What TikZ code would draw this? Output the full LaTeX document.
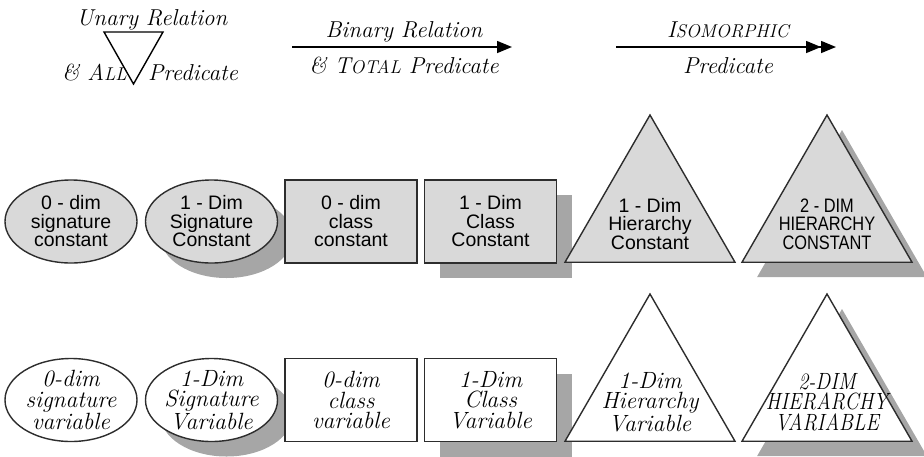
\documentclass[tikz,border=0pt]{standalone}
\usepackage{fontspec}
\usepackage{graphicx}
\newfontfamily\sansf{Liberation Sans}
\usetikzlibrary{shapes.geometric,shadows,arrows.meta}

\definecolor{boxfill}{RGB}{217,217,217}
\definecolor{shadowgray}{RGB}{166,166,166}
\definecolor{edgegray}{RGB}{45,45,45}

% small capitals set by hand (italic small caps)
\newcommand\smc[1]{{\fontsize{18.5}{18.5}\selectfont #1}}
% condensed capitals
\newcommand\narrowcaps[1]{\scalebox{0.84}[1]{#1}}
\newcommand\narrowital[1]{\scalebox{0.86}[1]{#1}}

\tikzset{
  shapebase/.style={draw=edgegray, line width=1.4pt, inner sep=0pt},
  ell/.style={shapebase, ellipse, minimum width=132pt, minimum height=83pt},
  box/.style={shapebase, rectangle, minimum width=132pt, minimum height=83pt},
  tri/.style={shapebase, regular polygon, regular polygon sides=3, minimum size=196.3pt},
  const/.style={fill=boxfill},
  var/.style={fill=white},
  shade/.style={drop shadow={shadow xshift=15pt, shadow yshift=-15pt,
                             fill=shadowgray, opacity=1}},
  sanslabel/.style={align=center, inner sep=0pt,
                    font=\sansf\fontsize{19.5}{18.5}\selectfont},
  seriflabel/.style={align=center, inner sep=0pt,
                     font=\itshape\fontsize{23.5}{20.5}\selectfont},
  headtext/.style={inner sep=0pt, font=\itshape\fontsize{23}{23}\selectfont},
  relarrow/.style={line width=1.5pt, -{Triangle[length=15pt,width=12pt]}},
  isoarrow/.style={line width=1.5pt,
                   -{Triangle[length=15pt,width=12pt]Triangle[length=15pt,width=12pt]}},
}

\begin{document}
\begin{tikzpicture}[x=1pt,y=-1pt]
\useasboundingbox (0,0) rectangle (924,456);
\clip (0,0) rectangle (924,456);

% ---- legend: unary relation ----
\node[headtext, anchor=base] (unary) at (152,25) {Unary Relation};
\coordinate (ul) at (104,32);
\coordinate (ur) at (163,32);
\coordinate (ub) at (133.5,84);
\draw[line width=1.4pt, line join=miter] (ul) -- (ur) -- (ub) -- cycle;
\node[headtext, anchor=base east] (allp) at (127,80) {\& A\smc{LL}};
\node[headtext, anchor=base west] (predA) at (148,80) {Predicate};

% ---- legend: binary relation ----
\coordinate (b1) at (292,47);
\coordinate (b2) at (512,47);
\draw[relarrow] (b1) -- (b2);
\node[headtext, anchor=base] (binary) at (404,37) {Binary Relation};
\node[headtext, anchor=base] (totalp) at (404,73) {\& T\smc{OTAL} Predicate};

% ---- legend: isomorphic ----
\coordinate (i1) at (616,47);
\coordinate (i2) at (836,47);
\draw[isoarrow] (i1) -- (i2);
\node[headtext, anchor=base] (iso) at (728,37) {I\smc{SOMORPHIC}};
\node[headtext, anchor=base] (predC) at (728,73) {Predicate};

% ---- constants ----
\node[ell, const] (c1) at (71,221.5) {};
\node[sanslabel] (c1t) at (c1.center) {0 - dim\\signature\\constant};
\node[ell, const, shade] (c2) at (211.5,221.5) {};
\node[sanslabel] (c2t) at (c2.center) {1 - Dim\\Signature\\Constant};
\node[box, const] (c3) at (351,221.5) {};
\node[sanslabel] (c3t) at (c3.center) {0 - dim\\class\\constant};
\node[box, const, shade] (c4) at (490.5,221.5) {};
\node[sanslabel] (c4t) at (c4.center) {1 - Dim\\Class\\Constant};
\node[tri, const] (c5) at (650,213.15) {};
\node[sanslabel] (c5t) at (650,224) {1 - Dim\\Hierarchy\\Constant};
\node[tri, const, shade] (c6) at (827,213.15) {};
\node[sanslabel] (c6t) at (827,224)
  {\narrowcaps{2 - DIM}\\\narrowcaps{HIERARCHY}\\\narrowcaps{CONSTANT}};

% ---- variables ----
\node[ell, var] (v1) at (71,400) {};
\node[seriflabel] (v1t) at (v1.center) {0-dim\\signature\\variable};
\node[ell, var, shade] (v2) at (211.5,400) {};
\node[seriflabel] (v2t) at (v2.center) {1-Dim\\Signature\\Variable};
\node[box, var] (v3) at (351,400) {};
\node[seriflabel] (v3t) at (v3.center) {0-dim\\class\\variable};
\node[box, var, shade] (v4) at (490.5,400) {};
\node[seriflabel] (v4t) at (v4.center) {1-Dim\\Class\\Variable};
\node[tri, var] (v5) at (650,392.15) {};
\node[seriflabel] (v5t) at (650,402) {1-Dim\\Hierarchy\\Variable};
\node[tri, var, shade] (v6) at (827,392.15) {};
\node[seriflabel] (v6t) at (827,402)
  {\narrowital{2-DIM}\\\narrowital{HIERARCHY}\\\narrowital{VARIABLE}};
\end{tikzpicture}
\end{document}
